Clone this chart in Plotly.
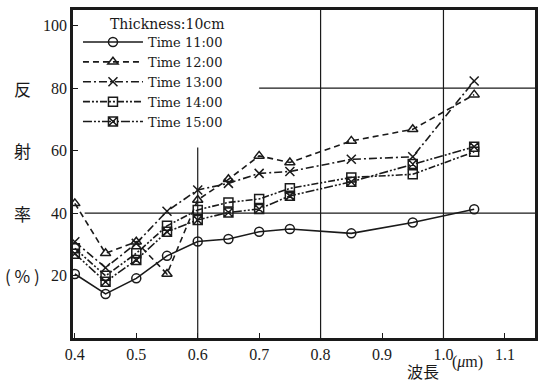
import plotly.graph_objects as go

wavelength = [0.40, 0.45, 0.50, 0.55, 0.60, 0.65, 0.70, 0.75, 0.85, 0.95, 1.05]
t1100 = [20.5, 14.1, 19.1, 26.3, 30.9, 31.7, 34.0, 34.9, 33.5, 37.0, 41.2]
t1200 = [43.1, 27.1, 30.8, 20.5, 44.2, 50.8, 58.3, 56.2, 63.1, 66.8, 77.9]
t1300 = [30.8, 22.5, 30.3, 40.6, 47.4, 49.5, 52.7, 53.3, 57.2, 58.0, 82.3]
t1400 = [28.7, 19.9, 27.1, 35.9, 41.0, 43.4, 44.5, 47.9, 51.4, 52.4, 59.6]
t1500 = [27.0, 18.0, 25.0, 34.0, 37.8, 40.2, 41.3, 45.5, 50.0, 55.7, 61.2]
series_names = ["Time 11:00", "Time 12:00", "Time 13:00", "Time 14:00", "Time 15:00"]
legend_title = "Thickness:10cm"
x_ticks = [0.4, 0.5, 0.6, 0.7, 0.8, 0.9, 1.0, 1.1]
y_ticks = [20, 40, 60, 80, 100]

styles = [
    ("solid", "circle-open"),
    ("6px,4px", "triangle-up-open"),
    ("8px,3px,2px,3px", "x-thin-open"),
    ("7px,2px,2px,2px,2px,2px", "square-open"),
    ("9px,2px,2px,2px,2px,2px", "square-x-open"),
]

fig = go.Figure()
for name, ys, (dash, sym) in zip(series_names, [t1100, t1200, t1300, t1400, t1500], styles):
    fig.add_trace(go.Scatter(
        x=wavelength, y=ys, name=name, mode="lines+markers",
        line=dict(color="#1a1a1a", width=1.6, dash=dash),
        marker=dict(symbol=sym, size=9, color="#1a1a1a", line=dict(color="#1a1a1a", width=1.5)),
    ))

serif = "Liberation Serif"
W, H = 540, 384
L, R, T, B = 73, 2, 10, 46
pw, ph = W - L - R, H - T - B

fig.update_layout(
    width=W, height=H,
    margin=dict(l=L, r=R, t=T, b=B),
    paper_bgcolor="white", plot_bgcolor="white",
    showlegend=True,
    legend=dict(
        x=(78 - L) / pw, y=(H - B - 27) / ph, xanchor="left", yanchor="top",
        bgcolor="rgba(255,255,255,0)",
        font=dict(family="DejaVu Serif", size=13, color="#1a1a1a"),
        itemwidth=60, tracegroupgap=0,
    ),
    xaxis=dict(
        range=[0.397, 1.149], tickvals=x_ticks, ticktext=[f"{v:.1f}" for v in x_ticks],
        ticks="inside", ticklen=5, tickcolor="#1a1a1a",
        showline=True, linecolor="#1a1a1a", linewidth=2.5, mirror=True,
        showgrid=False, zeroline=False,
        tickfont=dict(family=serif, size=16, color="#1a1a1a"),
    ),
    yaxis=dict(
        range=[0, 105], tickvals=y_ticks,
        ticks="inside", ticklen=5, tickcolor="#1a1a1a",
        showline=True, linecolor="#1a1a1a", linewidth=2.5, mirror=True,
        showgrid=False, zeroline=False,
        tickfont=dict(family=serif, size=16, color="#1a1a1a"),
    ),
)

# partial grid lines as in the original print
grid = [
    dict(x0=0.6, x1=0.6, y0=0, y1=61),
    dict(x0=0.8, x1=0.8, y0=0, y1=105),
    dict(x0=1.0, x1=1.0, y0=0, y1=105),
    dict(x0=0.416, x1=1.149, y0=40, y1=40),
    dict(x0=0.70, x1=1.149, y0=80, y1=80),
]
for g in grid:
    fig.add_shape(type="line", xref="x", yref="y", line=dict(color="#1a1a1a", width=1.2), layer="below", **g)

# legend title
fig.add_annotation(text=legend_title, xref="paper", yref="paper", x=(108 - L) / pw, y=(H - B - 24) / ph,
                   showarrow=False, xanchor="left", yanchor="middle",
                   font=dict(family="DejaVu Serif", size=14, color="#1a1a1a"))

# y-axis label, vertical stacked characters
for ch, yy in zip(["反", "射", "率", "( % )"], [80, 60, 40, 20]):
    fig.add_annotation(text=ch, xref="paper", yref="y", x=-0.11, y=yy, showarrow=False,
                       xanchor="center", yanchor="middle",
                       font=dict(family="Noto Sans CJK JP", size=17, color="#1a1a1a"))

fig.add_annotation(text="波長", xref="paper", yref="paper", x=(425 - L) / pw, y=(H - B - 371) / ph,
                   showarrow=False, xanchor="center", yanchor="middle",
                   font=dict(family="Noto Sans CJK JP", size=16, color="#1a1a1a"))
fig.add_annotation(text="(<i>μ</i>m)", xref="paper", yref="paper", x=(470 - L) / pw, y=(H - B - 362) / ph,
                   showarrow=False, xanchor="center", yanchor="middle",
                   font=dict(family=serif, size=16, color="#1a1a1a"))

fig.write_html("out.html")
